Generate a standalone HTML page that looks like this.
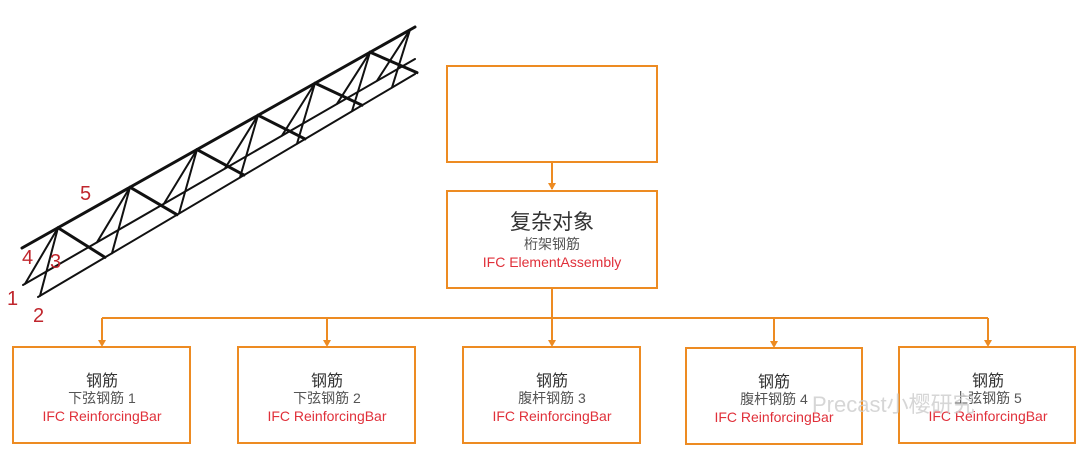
<!DOCTYPE html>
<html><head><meta charset="utf-8"><style>
body{margin:0;background:#fff;width:1080px;height:453px;overflow:hidden}
svg{display:block}
text{font-family:"Liberation Sans","Noto Sans CJK SC",sans-serif}
</style></head><body>
<svg id="s" width="1080" height="453" xmlns="http://www.w3.org/2000/svg">
<g id="truss" stroke="#111" fill="none" stroke-linecap="round"></g>
<g fill="#c0262d" font-size="20">
<text x="7" y="305">1</text><text x="33" y="322">2</text>
<text x="50" y="268">3</text><text x="22" y="264">4</text><text x="80" y="200">5</text>
</g>
<g stroke="#ed8b22" stroke-width="2" fill="#fff">
<rect x="447" y="66" width="210" height="96"/>
<rect x="447" y="191" width="210" height="97"/>
<rect x="13" y="347" width="177" height="96"/>
<rect x="238" y="347" width="177" height="96"/>
<rect x="463" y="347" width="177" height="96"/>
<rect x="686" y="348" width="176" height="96"/>
<rect x="899" y="347" width="176" height="96"/>
<path fill="none" d="M552 162V189M552 288V318M102 318H988M102 318V345M327 318V345M552 318V345M774 318V346M988 318V345"/>
</g>
<g fill="#ed8b22">
<path d="M548 183h8l-4 7z"/>
<path d="M98 340h8l-4 7z"/><path d="M323 340h8l-4 7z"/><path d="M548 340h8l-4 7z"/><path d="M770 341h8l-4 7z"/><path d="M984 340h8l-4 7z"/>
</g>
<g text-anchor="middle">
<text x="552" y="229" font-size="21" fill="#333">复杂对象</text>
<text x="552" y="249" font-size="14" fill="#555">桁架钢筋</text>
<text x="552" y="267" font-size="14" fill="#e0303a">IFC ElementAssembly</text>
</g>
<g text-anchor="middle" id="kids"></g>
<text x="812" y="412" font-size="22" fill="#ccc" opacity="0.8">Precast小樱研究</text>
</svg>
<script>
var ns="http://www.w3.org/2000/svg";
function L(g,x1,y1,x2,y2,w){var l=document.createElementNS(ns,"line");l.setAttribute("x1",x1);l.setAttribute("y1",y1);l.setAttribute("x2",x2);l.setAttribute("y2",y2);l.setAttribute("stroke-width",w);g.appendChild(l);}
var t=document.getElementById("truss");
function yt(x){return 248-0.5627*(x-22)}
function y1(x){return 285-0.577*(x-23)}
function y2(x){return 297-0.592*(x-38)}
L(t,22,248,415,27,3);L(t,23,285,415,59,2);L(t,38,297,415,74,2);
[58,130,197,258,315,370,410].forEach(function(x){
 L(t,x,yt(x),x-33,y1(x-33),2);
 L(t,x,yt(x),x-18,y2(x-18),2);
 if(x<400)L(t,x,yt(x),x+47,y2(x+47),3);
});
var k=document.getElementById("kids");
var d=[[102,"下弦钢筋 1"],[327,"下弦钢筋 2"],[552,"腹杆钢筋 3"],[774,"腹杆钢筋 4"],[988,"上弦钢筋 5"]];
d.forEach(function(a){
 var dy=a[0]==774?1:0;
 k.innerHTML+='<text x="'+a[0]+'" y="'+(386+dy)+'" font-size="16" fill="#333">钢筋</text><text x="'+a[0]+'" y="'+(403+dy)+'" font-size="14" fill="#555">'+a[1]+'</text><text x="'+a[0]+'" y="'+(421+dy)+'" font-size="14" fill="#e0303a">IFC ReinforcingBar</text>';
});
</script>
</body></html>
